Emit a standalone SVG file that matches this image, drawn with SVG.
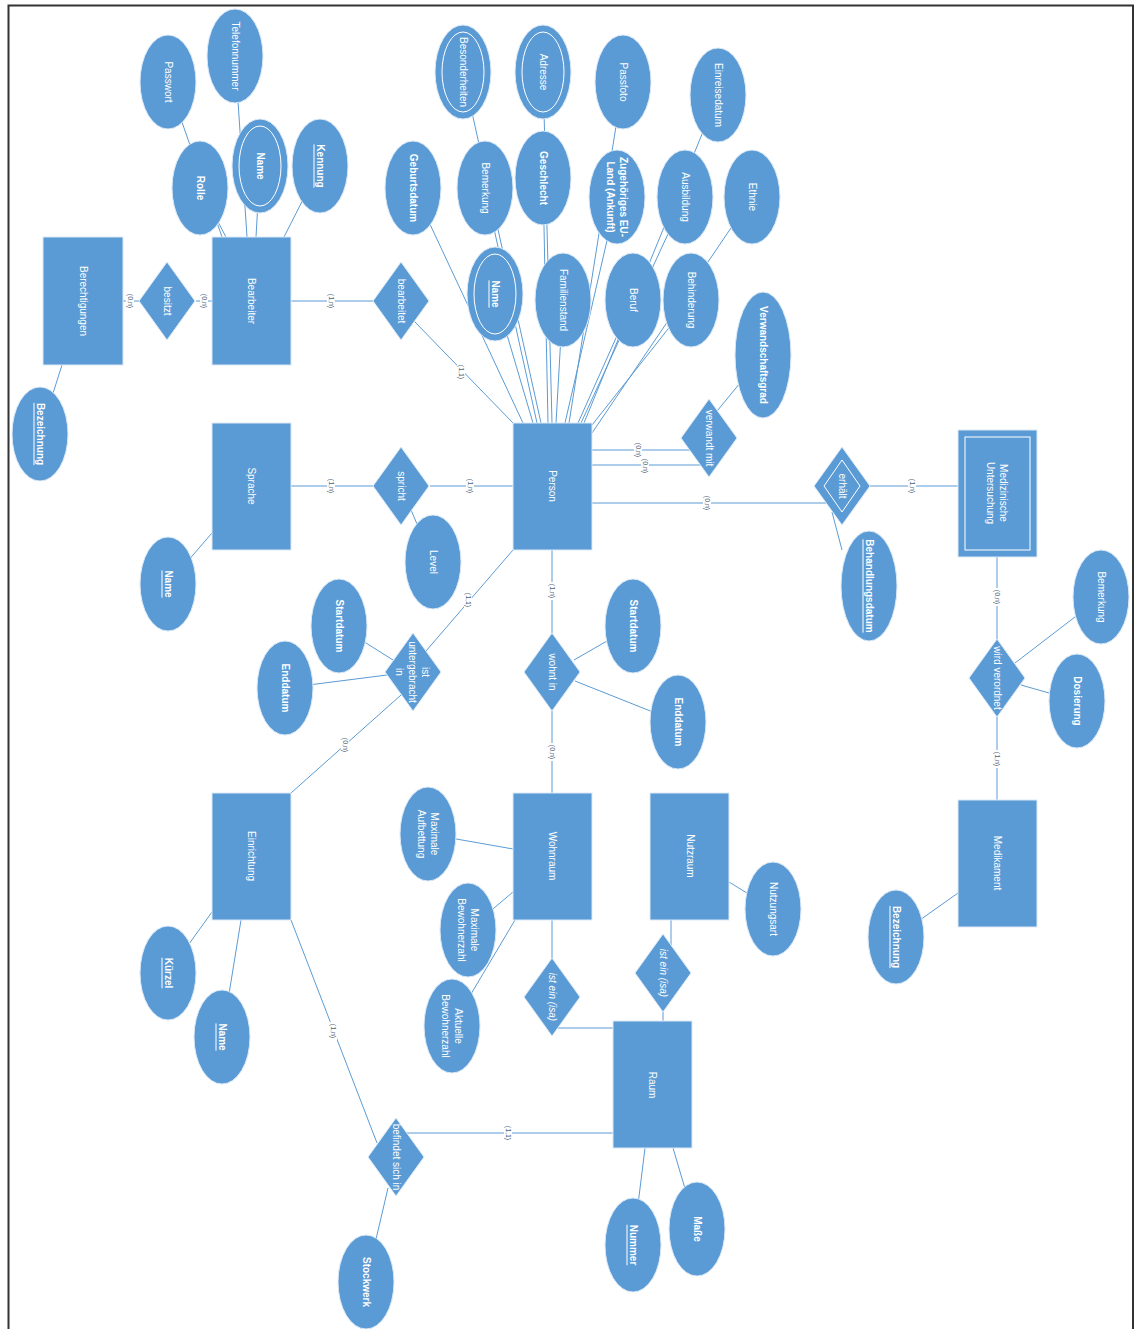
<svg xmlns="http://www.w3.org/2000/svg" width="1143" height="1329" viewBox="0 0 1143 1329">
<style>
.s{fill:#5B9BD5;stroke:#DCE9F6;stroke-width:1}
.in{fill:none;stroke:#ffffff;stroke-width:1}
.ln{stroke:#5B9BD5;stroke-width:1;fill:none}
.t{fill:#ffffff;font-family:"Liberation Sans",Arial,sans-serif;font-size:10px;text-anchor:middle;dominant-baseline:central}
.b{font-weight:bold}
.u{text-decoration:underline}
.i{font-style:italic}
.c{fill:#4A6078;font-family:"Liberation Sans",Arial,sans-serif;font-size:7px;text-anchor:middle;dominant-baseline:central}
.cb{fill:#ffffff}
</style>
<rect x="0" y="0" width="1143" height="1329" fill="#ffffff"/>
<path d="M8.5,1340 V5.5 H1133 V1340" fill="none" stroke="#333333" stroke-width="2"/>

<g id="connectors">
<line class="ln" x1="123" y1="301" x2="140" y2="301"/>
<line class="ln" x1="196" y1="301" x2="212" y2="301"/>
<line class="ln" x1="291" y1="301" x2="374" y2="301"/>
<line class="ln" x1="414" y1="321" x2="513" y2="423"/>
<line class="ln" x1="62" y1="365" x2="40" y2="434"/>
<line class="ln" x1="168" y1="82" x2="222" y2="237"/>
<line class="ln" x1="200" y1="188" x2="226" y2="237"/>
<line class="ln" x1="235" y1="56" x2="247" y2="237"/>
<line class="ln" x1="260" y1="166" x2="256" y2="237"/>
<line class="ln" x1="320" y1="166" x2="284" y2="237"/>
<line class="ln" x1="291" y1="486" x2="374" y2="486"/>
<line class="ln" x1="430" y1="486" x2="513" y2="486"/>
<line class="ln" x1="401" y1="486" x2="433" y2="562"/>
<line class="ln" x1="212" y1="533" x2="168" y2="584"/>
<line class="ln" x1="413" y1="188" x2="523" y2="423"/>
<line class="ln" x1="463" y1="72" x2="541" y2="423"/>
<line class="ln" x1="485" y1="188" x2="537" y2="423"/>
<line class="ln" x1="495" y1="294" x2="533" y2="423"/>
<line class="ln" x1="543" y1="72" x2="552" y2="423"/>
<line class="ln" x1="543" y1="178" x2="548" y2="423"/>
<line class="ln" x1="563" y1="300" x2="556" y2="423"/>
<line class="ln" x1="617" y1="197" x2="565" y2="423"/>
<line class="ln" x1="623" y1="82" x2="569" y2="423"/>
<line class="ln" x1="633" y1="300" x2="578" y2="423"/>
<line class="ln" x1="685" y1="197" x2="581" y2="423"/>
<line class="ln" x1="718" y1="95" x2="584" y2="423"/>
<line class="ln" x1="691" y1="300" x2="592" y2="425"/>
<line class="ln" x1="752" y1="197" x2="592" y2="433"/>
<line class="ln" x1="513" y1="550" x2="426" y2="651"/>
<line class="ln" x1="401" y1="695" x2="291" y2="793"/>
<line class="ln" x1="339" y1="626" x2="393" y2="660"/>
<line class="ln" x1="285" y1="688" x2="387" y2="675"/>
<line class="ln" x1="552" y1="550" x2="552" y2="633"/>
<line class="ln" x1="552" y1="711" x2="552" y2="793"/>
<line class="ln" x1="574" y1="660" x2="633" y2="626"/>
<line class="ln" x1="575" y1="681" x2="678" y2="722"/>
<line class="ln" x1="592" y1="450" x2="690" y2="450"/>
<line class="ln" x1="592" y1="465" x2="702" y2="465"/>
<line class="ln" x1="713" y1="416" x2="763" y2="355"/>
<line class="ln" x1="592" y1="503" x2="827" y2="503"/>
<line class="ln" x1="870" y1="486" x2="958" y2="486"/>
<line class="ln" x1="832" y1="512" x2="842" y2="550"/>
<line class="ln" x1="997" y1="557" x2="997" y2="640"/>
<line class="ln" x1="997" y1="717" x2="997" y2="800"/>
<line class="ln" x1="1015" y1="663" x2="1101" y2="597"/>
<line class="ln" x1="1021" y1="685" x2="1077" y2="701"/>
<line class="ln" x1="958" y1="893" x2="896" y2="937"/>
<line class="ln" x1="513" y1="849" x2="428" y2="834"/>
<line class="ln" x1="513" y1="892" x2="468" y2="930"/>
<line class="ln" x1="515" y1="920" x2="452" y2="1026"/>
<line class="ln" x1="552" y1="920" x2="552" y2="959"/>
<line class="ln" x1="557" y1="1028" x2="613" y2="1028"/>
<line class="ln" x1="671" y1="920" x2="671" y2="945"/>
<line class="ln" x1="663" y1="1012" x2="663" y2="1021"/>
<line class="ln" x1="729" y1="882" x2="773" y2="909"/>
<line class="ln" x1="291" y1="920" x2="377" y2="1143"/>
<line class="ln" x1="212" y1="912" x2="168" y2="973"/>
<line class="ln" x1="241" y1="920" x2="222" y2="1037"/>
<line class="ln" x1="406" y1="1133" x2="613" y2="1133"/>
<line class="ln" x1="388" y1="1188" x2="366" y2="1282"/>
<line class="ln" x1="645" y1="1148" x2="633" y2="1245"/>
<line class="ln" x1="673" y1="1148" x2="697" y2="1229"/>
<g id="cardinalities">
<g transform="translate(130,301) rotate(90)"><rect class="cb" x="-9" y="-4" width="18" height="8"/><text class="c">(0,n)</text></g>
<g transform="translate(204,301) rotate(90)"><rect class="cb" x="-9" y="-4" width="18" height="8"/><text class="c">(0,n)</text></g>
<g transform="translate(331,301) rotate(90)"><rect class="cb" x="-9" y="-4" width="18" height="8"/><text class="c">(1,n)</text></g>
<g transform="translate(461,372) rotate(90)"><rect class="cb" x="-9" y="-4" width="18" height="8"/><text class="c">(1,1)</text></g>
<g transform="translate(331,486) rotate(90)"><rect class="cb" x="-9" y="-4" width="18" height="8"/><text class="c">(1,n)</text></g>
<g transform="translate(470,486) rotate(90)"><rect class="cb" x="-9" y="-4" width="18" height="8"/><text class="c">(1,n)</text></g>
<g transform="translate(468,600) rotate(90)"><rect class="cb" x="-9" y="-4" width="18" height="8"/><text class="c">(1,1)</text></g>
<g transform="translate(345,745) rotate(90)"><rect class="cb" x="-9" y="-4" width="18" height="8"/><text class="c">(0,n)</text></g>
<g transform="translate(552,591) rotate(90)"><rect class="cb" x="-9" y="-4" width="18" height="8"/><text class="c">(1,n)</text></g>
<g transform="translate(552,752) rotate(90)"><rect class="cb" x="-9" y="-4" width="18" height="8"/><text class="c">(0,n)</text></g>
<g transform="translate(638,450) rotate(90)"><rect class="cb" x="-9" y="-4" width="18" height="8"/><text class="c">(0,n)</text></g>
<g transform="translate(645,466) rotate(90)"><rect class="cb" x="-9" y="-4" width="18" height="8"/><text class="c">(0,n)</text></g>
<g transform="translate(707,503) rotate(90)"><rect class="cb" x="-9" y="-4" width="18" height="8"/><text class="c">(0,n)</text></g>
<g transform="translate(912,486) rotate(90)"><rect class="cb" x="-9" y="-4" width="18" height="8"/><text class="c">(1,n)</text></g>
<g transform="translate(997,597) rotate(90)"><rect class="cb" x="-9" y="-4" width="18" height="8"/><text class="c">(0,n)</text></g>
<g transform="translate(997,759) rotate(90)"><rect class="cb" x="-9" y="-4" width="18" height="8"/><text class="c">(1,n)</text></g>
<g transform="translate(333,1031) rotate(90)"><rect class="cb" x="-9" y="-4" width="18" height="8"/><text class="c">(1,n)</text></g>
<g transform="translate(508,1133) rotate(90)"><rect class="cb" x="-9" y="-4" width="18" height="8"/><text class="c">(1,1)</text></g>
</g>
</g>

<g id="entities">
<g id="berechtigungen"><rect class="s" x="43" y="237" width="80" height="128"/><text class="t" transform="translate(83,301) rotate(90)">Berechtigungen</text></g>
<g id="bearbeiter"><rect class="s" x="212" y="237" width="79" height="128"/><text class="t" transform="translate(251,301) rotate(90)">Bearbeiter</text></g>
<g id="sprache"><rect class="s" x="212" y="423" width="79" height="127"/><text class="t" transform="translate(251,486) rotate(90)">Sprache</text></g>
<g id="person"><rect class="s" x="513" y="423" width="79" height="127"/><text class="t" transform="translate(552,486) rotate(90)">Person</text></g>
<g id="medizinische-untersuchung"><rect class="s" x="958" y="430" width="79" height="127"/><rect class="in" x="965" y="437" width="65" height="113"/><text class="t" transform="translate(997,493) rotate(90)"><tspan x="0" y="-6.5">Medizinische</tspan><tspan x="0" y="6.5">Untersuchung</tspan></text></g>
<g id="einrichtung"><rect class="s" x="212" y="793" width="79" height="127"/><text class="t" transform="translate(251,856) rotate(90)">Einrichtung</text></g>
<g id="wohnraum"><rect class="s" x="513" y="793" width="79" height="127"/><text class="t" transform="translate(552,856) rotate(90)">Wohnraum</text></g>
<g id="nutzraum"><rect class="s" x="650" y="793" width="79" height="127"/><text class="t" transform="translate(690,856) rotate(90)">Nutzraum</text></g>
<g id="medikament"><rect class="s" x="958" y="800" width="79" height="127"/><text class="t" transform="translate(997,863) rotate(90)">Medikament</text></g>
<g id="raum"><rect class="s" x="613" y="1021" width="79" height="127"/><text class="t" transform="translate(652,1085) rotate(90)">Raum</text></g>
</g>

<g id="relationships">
<g id="besitzt"><polygon class="s" points="167,262 195,301 167,340 139,301"/><text class="t" transform="translate(167,301) rotate(90)">besitzt</text></g>
<g id="bearbeitet"><polygon class="s" points="401,262 429,301 401,340 373,301"/><text class="t" transform="translate(401,301) rotate(90)">bearbeitet</text></g>
<g id="spricht"><polygon class="s" points="401,447 429,486 401,525 373,486"/><text class="t" transform="translate(401,486) rotate(90)">spricht</text></g>
<g id="verwandt-mit"><polygon class="s" points="709,399 737,438 709,477 681,438"/><text class="t" transform="translate(709,438) rotate(90)">verwandt mit</text></g>
<g id="erhaelt"><polygon class="s" points="842,447 870,486 842,525 814,486"/><polygon class="in" points="842,460 860,486 842,512 824,486"/><text class="t" transform="translate(842,486) rotate(90)">erhält</text></g>
<g id="ist-untergebracht-in"><polygon class="s" points="413,633 441,672 413,711 385,672"/><text class="t" transform="translate(413,672) rotate(90)"><tspan x="0" y="-13">ist</tspan><tspan x="0" y="0">untergebracht</tspan><tspan x="0" y="13">in</tspan></text></g>
<g id="wohnt-in"><polygon class="s" points="552,633 580,672 552,711 524,672"/><text class="t" transform="translate(552,672) rotate(90)">wohnt in</text></g>
<g id="wird-verordnet"><polygon class="s" points="997,639 1025,678 997,717 969,678"/><text class="t" transform="translate(997,678) rotate(90)">wird verordnet</text></g>
<g id="isa-wohnraum"><polygon class="s" points="552,958 580,997 552,1036 524,997"/><text class="t i" transform="translate(552,997) rotate(90)">ist ein (isa)</text></g>
<g id="isa-nutzraum"><polygon class="s" points="663,934 691,973 663,1012 635,973"/><text class="t i" transform="translate(663,973) rotate(90)">ist ein (isa)</text></g>
<g id="befindet-sich-in"><polygon class="s" points="396,1118 424,1157 396,1196 368,1157"/><text class="t" transform="translate(396,1157) rotate(90)">befindet sich in</text></g>
</g>

<g id="attributes">
<g id="a-passwort"><ellipse class="s" cx="168" cy="82" rx="28" ry="47"/><text class="t" transform="translate(168,82) rotate(90)">Passwort</text></g>
<g id="a-telefonnummer"><ellipse class="s" cx="235" cy="56" rx="28" ry="47"/><text class="t" transform="translate(235,56) rotate(90)">Telefonnummer</text></g>
<g id="a-rolle"><ellipse class="s" cx="200" cy="188" rx="28" ry="47"/><text class="t b" transform="translate(200,188) rotate(90)">Rolle</text></g>
<g id="a-bearbeiter-name"><ellipse class="s" cx="260" cy="166" rx="28" ry="47"/><ellipse class="in" cx="260" cy="166" rx="21" ry="40"/><text class="t b" transform="translate(260,166) rotate(90)">Name</text></g>
<g id="a-kennung"><ellipse class="s" cx="320" cy="166" rx="28" ry="47"/><text class="t b u" transform="translate(320,166) rotate(90)">Kennung</text></g>
<g id="a-bezeichnung-ber"><ellipse class="s" cx="40" cy="434" rx="28" ry="47"/><text class="t b u" transform="translate(40,434) rotate(90)">Bezeichnung</text></g>
<g id="a-besonderheiten"><ellipse class="s" cx="463" cy="72" rx="28" ry="47"/><ellipse class="in" cx="463" cy="72" rx="21" ry="40"/><text class="t" transform="translate(463,72) rotate(90)">Besonderheiten</text></g>
<g id="a-adresse"><ellipse class="s" cx="543" cy="72" rx="28" ry="47"/><ellipse class="in" cx="543" cy="72" rx="21" ry="40"/><text class="t" transform="translate(543,72) rotate(90)">Adresse</text></g>
<g id="a-passfoto"><ellipse class="s" cx="623" cy="82" rx="28" ry="47"/><text class="t" transform="translate(623,82) rotate(90)">Passfoto</text></g>
<g id="a-einreisedatum"><ellipse class="s" cx="718" cy="95" rx="28" ry="47"/><text class="t" transform="translate(718,95) rotate(90)">Einreisedatum</text></g>
<g id="a-geburtsdatum"><ellipse class="s" cx="413" cy="188" rx="28" ry="47"/><text class="t b" transform="translate(413,188) rotate(90)">Geburtsdatum</text></g>
<g id="a-bemerkung-p"><ellipse class="s" cx="485" cy="188" rx="28" ry="47"/><text class="t" transform="translate(485,188) rotate(90)">Bemerkung</text></g>
<g id="a-geschlecht"><ellipse class="s" cx="543" cy="178" rx="28" ry="47"/><text class="t b" transform="translate(543,178) rotate(90)">Geschlecht</text></g>
<g id="a-eu-land"><ellipse class="s" cx="617" cy="197" rx="28" ry="47"/><text class="t b" transform="translate(617,197) rotate(90)"><tspan x="0" y="-6.5">Zugehöriges EU-</tspan><tspan x="0" y="6.5">Land (Ankunft)</tspan></text></g>
<g id="a-ausbildung"><ellipse class="s" cx="685" cy="197" rx="28" ry="47"/><text class="t" transform="translate(685,197) rotate(90)">Ausbildung</text></g>
<g id="a-ethnie"><ellipse class="s" cx="752" cy="197" rx="28" ry="47"/><text class="t" transform="translate(752,197) rotate(90)">Ethnie</text></g>
<g id="a-person-name"><ellipse class="s" cx="495" cy="294" rx="28" ry="47"/><ellipse class="in" cx="495" cy="294" rx="21" ry="40"/><text class="t b u" transform="translate(495,294) rotate(90)">Name</text></g>
<g id="a-familienstand"><ellipse class="s" cx="563" cy="300" rx="28" ry="47"/><text class="t" transform="translate(563,300) rotate(90)">Familienstand</text></g>
<g id="a-beruf"><ellipse class="s" cx="633" cy="300" rx="28" ry="47"/><text class="t" transform="translate(633,300) rotate(90)">Beruf</text></g>
<g id="a-behinderung"><ellipse class="s" cx="691" cy="300" rx="28" ry="47"/><text class="t" transform="translate(691,300) rotate(90)">Behinderung</text></g>
<g id="a-verwandschaftsgrad"><ellipse class="s" cx="763" cy="355" rx="28" ry="63"/><text class="t b" transform="translate(763,355) rotate(90)">Verwandschaftsgrad</text></g>
<g id="a-sprache-name"><ellipse class="s" cx="168" cy="584" rx="28" ry="47"/><text class="t b u" transform="translate(168,584) rotate(90)">Name</text></g>
<g id="a-level"><ellipse class="s" cx="433" cy="562" rx="28" ry="47"/><text class="t" transform="translate(433,562) rotate(90)">Level</text></g>
<g id="a-behandlungsdatum"><ellipse class="s" cx="869" cy="586" rx="28" ry="55"/><text class="t b u" transform="translate(869,586) rotate(90)">Behandlungsdatum</text></g>
<g id="a-startdatum-1"><ellipse class="s" cx="339" cy="626" rx="28" ry="47"/><text class="t b" transform="translate(339,626) rotate(90)">Startdatum</text></g>
<g id="a-enddatum-1"><ellipse class="s" cx="285" cy="688" rx="28" ry="47"/><text class="t b" transform="translate(285,688) rotate(90)">Enddatum</text></g>
<g id="a-startdatum-2"><ellipse class="s" cx="633" cy="626" rx="28" ry="47"/><text class="t b" transform="translate(633,626) rotate(90)">Startdatum</text></g>
<g id="a-enddatum-2"><ellipse class="s" cx="678" cy="722" rx="28" ry="47"/><text class="t b" transform="translate(678,722) rotate(90)">Enddatum</text></g>
<g id="a-bemerkung-v"><ellipse class="s" cx="1101" cy="597" rx="28" ry="47"/><text class="t" transform="translate(1101,597) rotate(90)">Bemerkung</text></g>
<g id="a-dosierung"><ellipse class="s" cx="1077" cy="701" rx="28" ry="47"/><text class="t b" transform="translate(1077,701) rotate(90)">Dosierung</text></g>
<g id="a-max-aufbettung"><ellipse class="s" cx="428" cy="834" rx="28" ry="47"/><text class="t" transform="translate(428,834) rotate(90)"><tspan x="0" y="-6.5">Maximale</tspan><tspan x="0" y="6.5">Aufbettung</tspan></text></g>
<g id="a-max-bewohner"><ellipse class="s" cx="468" cy="930" rx="28" ry="47"/><text class="t" transform="translate(468,930) rotate(90)"><tspan x="0" y="-6.5">Maximale</tspan><tspan x="0" y="6.5">Bewohnerzahl</tspan></text></g>
<g id="a-akt-bewohner"><ellipse class="s" cx="452" cy="1026" rx="28" ry="47"/><text class="t" transform="translate(452,1026) rotate(90)"><tspan x="0" y="-6.5">Aktuelle</tspan><tspan x="0" y="6.5">Bewohnerzahl</tspan></text></g>
<g id="a-nutzungsart"><ellipse class="s" cx="773" cy="909" rx="28" ry="47"/><text class="t" transform="translate(773,909) rotate(90)">Nutzungsart</text></g>
<g id="a-bezeichnung-med"><ellipse class="s" cx="896" cy="937" rx="28" ry="47"/><text class="t b u" transform="translate(896,937) rotate(90)">Bezeichnung</text></g>
<g id="a-kuerzel"><ellipse class="s" cx="168" cy="973" rx="28" ry="47"/><text class="t b u" transform="translate(168,973) rotate(90)">Kürzel</text></g>
<g id="a-einrichtung-name"><ellipse class="s" cx="222" cy="1037" rx="28" ry="47"/><text class="t b u" transform="translate(222,1037) rotate(90)">Name</text></g>
<g id="a-stockwerk"><ellipse class="s" cx="366" cy="1282" rx="28" ry="47"/><text class="t b" transform="translate(366,1282) rotate(90)">Stockwerk</text></g>
<g id="a-nummer"><ellipse class="s" cx="633" cy="1245" rx="28" ry="47"/><text class="t b u" transform="translate(633,1245) rotate(90)">Nummer</text></g>
<g id="a-masse"><ellipse class="s" cx="697" cy="1229" rx="28" ry="47"/><text class="t b" transform="translate(697,1229) rotate(90)">Maße</text></g>
</g>
</svg>
